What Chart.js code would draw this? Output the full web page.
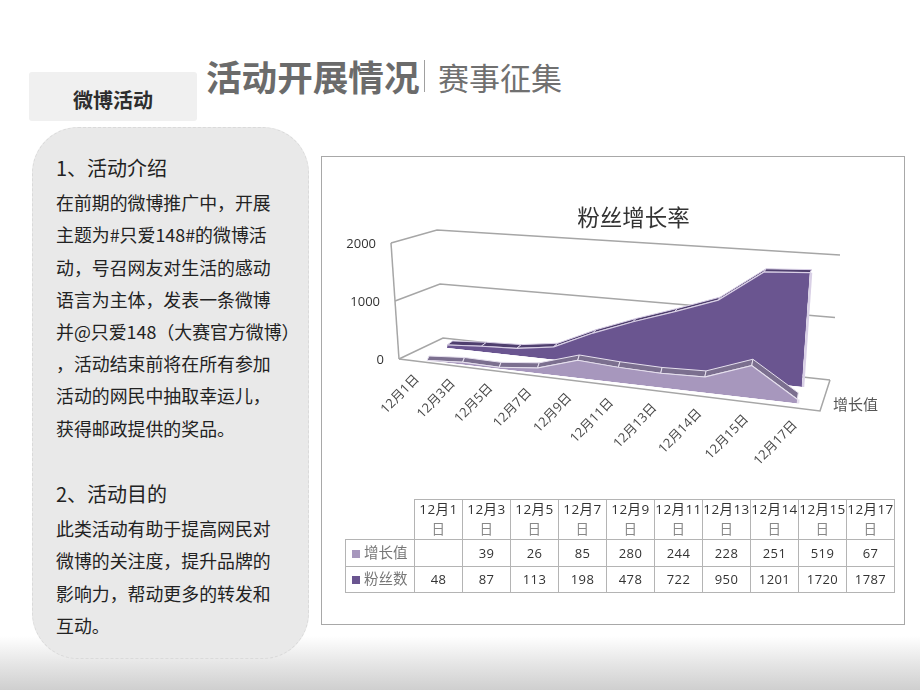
<!DOCTYPE html>
<html>
<head>
<meta charset="utf-8">
<script src="https://cdn.jsdelivr.net/npm/chart.js@4/dist/chart.umd.js"></script>
<style>
  html, body { margin: 0; padding: 0; background: #fff; }
  body { width: 920px; height: 690px; position: relative; overflow: hidden; font-family: "Noto Sans CJK SC", sans-serif; }
  .bottom { position: absolute; left: 0; right: 0; top: 636px; height: 54px; background: linear-gradient(#fff, #e6e6e6 50%, #cfcfcf); }
  .head1 { position: absolute; left: 206px; top: 50px; font-size: 35.6px; line-height: 52px; font-weight: 700; color: #6b6b6b; }
  .bar { position: absolute; left: 424px; top: 60px; width: 1px; height: 32px; background: #a0a0a0; }
  .head2 { position: absolute; left: 438px; top: 53px; font-size: 31px; line-height: 48px; color: #707070; }
  .tab { position: absolute; left: 29px; top: 72px; width: 168px; height: 49px; background: #f0f0f0; border-radius: 3px; text-align: center; font-size: 20px; line-height: 56px; font-weight: 700; color: #2e2e2e; }
  .panel { position: absolute; left: 32px; top: 127px; width: 275px; height: 530px; background: #e9e9e9; border: 1px dashed #dadada; border-radius: 46px; }
  .line { position: absolute; left: 56px; font-size: 17.9px; line-height: 24px; color: #222; white-space: nowrap; }
  .line.h { font-size: 20px; color: #222; }
  .box { position: absolute; left: 321px; top: 156px; width: 582px; height: 467px; background: #fff; border: 1px solid #a8a8a8; }
  #chart { position: absolute; left: 322px; top: 157px; }
  table { position: absolute; left: 345px; top: 499px; border-collapse: collapse; table-layout: fixed; color: #333; font-size: 13px; font-family: "Open Sans", "Noto Sans CJK SC", sans-serif; }
  td { border: 1px solid #b4b4b4; text-align: center; padding: 0; white-space: nowrap; overflow: visible; width: 47px; letter-spacing: 0.4px; }
  td.blank { border: 0; border-right: 1px solid #b4b4b4; border-bottom: 1px solid #b4b4b4; }
  td.name { width: 68px; text-align: left; color: #777; font-size: 14.5px; letter-spacing: 0; line-height: 18px; }
  td.name i { display: inline-block; width: 8px; height: 8px; margin: 0 4px 0 6px; }
  tr.top td { height: 39px; line-height: 19.5px; font-size: 13.5px; }
  tr.row td { height: 25.5px; line-height: 18px; }
  tr.top td span { color: #888; }
</style>
</head>
<body>
<div class="bottom"></div>
<div class="head1">活动开展情况</div>
<div class="bar"></div>
<div class="head2">赛事征集</div>
<div class="tab">微博活动</div>
<div class="panel"></div>
<div id="text"></div>
<div class="box"></div>
<canvas id="chart" width="581" height="466"></canvas>
<table id="tabla"></table>
<script>
const fechas = ["12月1日", "12月3日", "12月5日", "12月7日", "12月9日", "12月11日", "12月13日", "12月14日", "12月15日", "12月17日"];
const crecimiento = [null, 39, 26, 85, 280, 244, 228, 251, 519, 67];
const seguidores = [48, 87, 113, 198, 478, 722, 950, 1201, 1720, 1787];
const ticksValor = [0, 1000, 2000];

const lineas = [
  [156, "1、活动介绍", true],
  [190, "在前期的微博推广中\uFF0C开展"],
  [222, "主题为#只爱148#的微博活"],
  [255, "动\uFF0C号召网友对生活的感动"],
  [287, "语言为主体\uFF0C发表一条微博"],
  [319, "并@只爱148\uFF08大赛官方微博\uFF09"],
  [351, "\uFF0C活动结束前将在所有参加"],
  [383, "活动的网民中抽取幸运儿\uFF0C"],
  [416, "获得邮政提供的奖品。"],
  [482, "2、活动目的", true],
  [516, "此类活动有助于提高网民对"],
  [548, "微博的关注度\uFF0C提升品牌的"],
  [581, "影响力\uFF0C帮动更多的转发和"],
  [613, "互动。"]
];
document.getElementById("text").innerHTML = lineas.map(l =>
  '<div class="line' + (l[2] ? ' h' : '') + '" style="top:' + l[0] + 'px">' + l[1] + '</div>').join("");

// tabla de datos debajo del grafico
const colorCrec = "#a797bd", colorSeg = "#6a5590";
let filas = '<tr class="top"><td class="blank"></td>';
fechas.forEach(f => { filas += "<td>" + f.slice(0, -1) + "<br><span>" + f.slice(-1) + "</span></td>"; });
filas += '</tr><tr class="row"><td class="name"><i style="background:' + colorCrec + '"></i>增长值</td>';
crecimiento.forEach(v => { filas += "<td>" + (v === null ? "" : v) + "</td>"; });
filas += '</tr><tr class="row"><td class="name"><i style="background:' + colorSeg + '"></i>粉丝数</td>';
seguidores.forEach(v => { filas += "<td>" + v + "</td>"; });
document.getElementById("tabla").innerHTML = filas + "</tr>";

// escala de categorias con perspectiva: los dias se abren hacia la derecha
class DepthScale extends Chart.CategoryScale {
  getPixelForDecimal(d) {
    return super.getPixelForDecimal(d / (1.18 - 0.18 * d));
  }
}
DepthScale.id = "depth";
DepthScale.defaults = Chart.CategoryScale.defaults;
Chart.register(DepthScale);

// planos de la vista 3D, en pixeles de la pagina
const OX = 322, OY = 157;
const planos = [
  { x0: 427, y0: 360.5, x1: 797, y1: 403.5, lean: 9, alto: 125, band: [2, -4.5, 1, -6.5], color: "#7b6f8f", edge: "#e6e0ee" },
  { x0: 447, y0: 348, x1: 802, y1: 387, lean: 9, alto: 128, band: [5.5, -4, 1.5, -3], color: "#4f3f6e", edge: "#d9d0e6" }
];
const pared = {
  frontal: [[399, 359], [391, 243]],
  fondoIzq: [[443, 338], [437, 230]],
  fondoDer: [[830, 380], [840, 255]],
  frontalDer: [820, 411]
};
const FUENTE = '"Open Sans", "Noto Sans CJK SC", sans-serif';

function mix(a, b, t) { return a + (b - a) * t; }
function enPared(par, h) {
  return [mix(par[0][0], par[1][0], h) - OX, mix(par[0][1], par[1][1], h) - OY];
}
function proyectar(chart, p, px, py) {
  const a = chart.chartArea;
  const u = (px - a.left) / (a.right - a.left), w = (a.bottom - py) / (a.bottom - a.top);
  return [mix(p.x0, p.x1, u) + p.lean * w - OX, mix(p.y0, p.y1, u) - p.alto * w - OY];
}

const vista3d = {
  id: "vista3d",
  afterLayout(chart) {
    // el titulo no va centrado en el recuadro
    chart.titleBlock.left += 21;
    chart.titleBlock.right += 21;
  },
  beforeDatasetsDraw(chart) {
    const ctx = chart.ctx, y = chart.scales.y, x = chart.scales.x, a = chart.chartArea;
    ctx.save();
    ctx.strokeStyle = "#a6a6a6";
    ctx.lineWidth = 1.5;
    // suelo
    ctx.beginPath();
    ctx.moveTo(...enPared(pared.frontal, 0));
    ctx.lineTo(pared.frontalDer[0] - OX, pared.frontalDer[1] - OY);
    ctx.lineTo(...enPared(pared.fondoDer, 0));
    ctx.stroke();
    // arista izquierda y lineas de division
    ctx.beginPath();
    ctx.moveTo(...enPared(pared.frontal, 0));
    ctx.lineTo(...enPared(pared.frontal, 1));
    ctx.stroke();
    ctx.fillStyle = "#333";
    ctx.font = "13px " + FUENTE;
    ctx.textAlign = "right";
    ctx.textBaseline = "middle";
    ticksValor.forEach(v => {
      const h = (a.bottom - y.getPixelForValue(v)) / (a.bottom - a.top);
      ctx.beginPath();
      ctx.moveTo(...enPared(pared.frontal, h));
      ctx.lineTo(...enPared(pared.fondoIzq, h));
      ctx.lineTo(...enPared(pared.fondoDer, h));
      ctx.stroke();
      const f = enPared(pared.frontal, h);
      ctx.fillText(String(v), f[0] - 15, f[1] + 1);
    });
    // etiquetas de fecha giradas
    ctx.fillStyle = "#4a4a4a";
    fechas.forEach((f, i) => {
      const u = (x.getPixelForValue(i) - a.left) / (a.right - a.left);
      ctx.save();
      ctx.translate(mix(417, 795, u) - OX, mix(377, 423, u) - OY);
      ctx.rotate(-46 * Math.PI / 180);
      ctx.fillText(f, 0, 0);
      ctx.restore();
    });
    ctx.fillStyle = "#555";
    ctx.font = '15px "Noto Sans CJK SC", sans-serif';
    ctx.textAlign = "left";
    ctx.fillText("增长值", 833 - OX, 404 - OY);
    ctx.restore();
  },
  beforeDatasetDraw(chart, args) {
    const ctx = chart.ctx, p = planos[args.index], a = chart.chartArea;
    const pts = args.meta.data;
    // cara superior de cada tramo
    ctx.save();
    ctx.fillStyle = p.color;
    ctx.strokeStyle = p.edge;
    ctx.lineWidth = 1;
    for (let i = 0; i < pts.length - 1; i++) {
      const t0 = i / (pts.length - 1), t1 = (i + 1) / (pts.length - 1);
      const f0 = proyectar(chart, p, pts[i].x, pts[i].y), f1 = proyectar(chart, p, pts[i + 1].x, pts[i + 1].y);
      ctx.beginPath();
      ctx.moveTo(f0[0], f0[1]);
      ctx.lineTo(f1[0], f1[1]);
      ctx.lineTo(f1[0] + mix(p.band[0], p.band[2], t1), f1[1] + mix(p.band[1], p.band[3], t1));
      ctx.lineTo(f0[0] + mix(p.band[0], p.band[2], t0), f0[1] + mix(p.band[1], p.band[3], t0));
      ctx.closePath();
      ctx.fill();
      ctx.stroke();
    }
    ctx.restore();
    // la serie se dibuja en su plano con la escala normal
    ctx.save();
    const w = a.right - a.left, h = a.bottom - a.top;
    const m = [(p.x1 - p.x0) / w, (p.y1 - p.y0) / w, -p.lean / h, p.alto / h];
    ctx.transform(m[0], m[1], m[2], m[3],
      p.x0 - OX - m[0] * a.left - m[2] * a.bottom,
      p.y0 - OY - m[1] * a.left - m[3] * a.bottom);
  },
  afterDatasetDraw(chart, args) {
    const ctx = chart.ctx, p = planos[args.index];
    ctx.restore();
    // canto derecho claro
    const ult = args.meta.data[args.meta.data.length - 1];
    const arriba = proyectar(chart, p, ult.x, ult.y), abajo = proyectar(chart, p, ult.x, chart.chartArea.bottom);
    ctx.save();
    ctx.strokeStyle = p.edge;
    ctx.lineWidth = 2.5;
    ctx.beginPath();
    ctx.moveTo(arriba[0] + 1, arriba[1]);
    ctx.lineTo(abajo[0] + 1, abajo[1]);
    ctx.stroke();
    ctx.restore();
  }
};

// el relleno tiene que pintarse despues de aplicar el plano, por eso va detras
Chart.unregister(Chart.Filler);
Chart.register(vista3d);
Chart.register(Chart.Filler);

new Chart(document.getElementById("chart").getContext("2d"), {
  type: "line",
  data: {
    labels: fechas,
    datasets: [
      { label: "增长值", data: crecimiento.map(v => v === null ? 0 : v), backgroundColor: colorCrec, borderColor: planos[0].edge, borderWidth: 2, fill: "origin", clip: false },
      { label: "粉丝数", data: seguidores, backgroundColor: colorSeg, borderColor: planos[1].edge, borderWidth: 2, fill: "origin", clip: false }
    ]
  },
  options: {
    responsive: false,
    animation: false,
    layout: { padding: { left: 90, right: 90, bottom: 130 } },
    elements: { point: { radius: 0 }, line: { tension: 0 } },
    scales: {
      x: { type: "depth", display: false },
      y: { display: false, min: 0, max: 2000 }
    },
    plugins: {
      legend: { display: false },
      tooltip: { enabled: false },
      title: {
        display: true,
        text: "粉丝增长率",
        color: "#333",
        font: { family: '"Noto Sans CJK SC", sans-serif', size: 22.5, weight: "normal" },
        padding: { top: 47, bottom: 10 }
      }
    }
  }
});
</script>
</body>
</html>
